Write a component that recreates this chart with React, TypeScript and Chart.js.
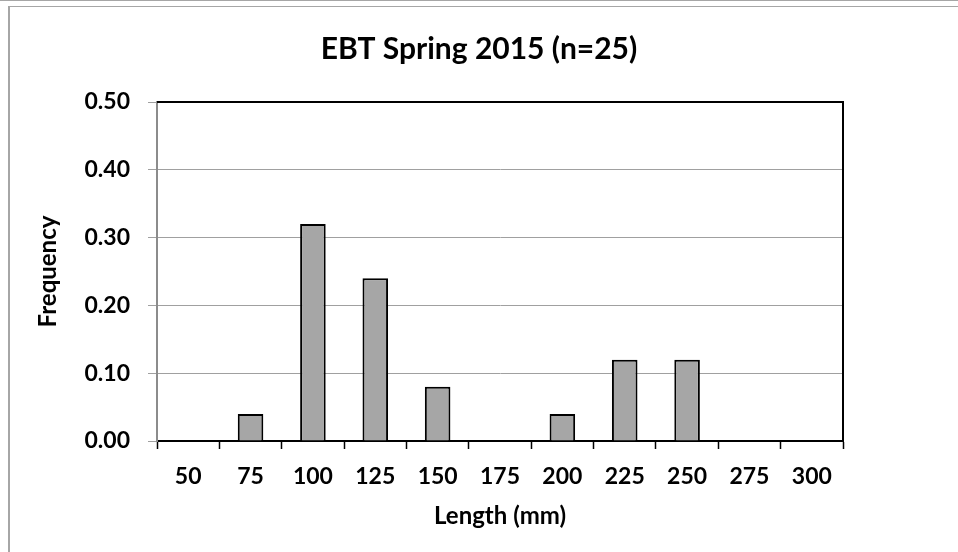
import React, { useEffect, useRef } from "react";
import { Chart, registerables } from "chart.js";

Chart.register(...registerables);

const categories = ["50", "75", "100", "125", "150", "175", "200", "225", "250", "275", "300"];
const frequency = [0, 0.04, 0.32, 0.24, 0.08, 0, 0.04, 0.12, 0.12, 0, 0];
const titleText = "EBT Spring 2015 (n=25)";
const xTitle = "Length (mm)";
const yTitle = "Frequency";

const FONT = "Lato, 'Open Sans', sans-serif";

const plotBorder = {
  id: "plotBorder",
  afterDraw(chart: any) {
    const { ctx, chartArea } = chart;
    ctx.save();
    ctx.strokeStyle = "#000";
    ctx.lineWidth = 2;
    ctx.beginPath();
    ctx.moveTo(chartArea.left, chartArea.top);
    ctx.lineTo(chartArea.right, chartArea.top);
    ctx.stroke();
    ctx.restore();
  },
};

export default function App() {
  const ref = useRef<HTMLCanvasElement | null>(null);

  useEffect(() => {
    if (!ref.current) return;
    const chart = new Chart(ref.current, {
      type: "bar",
      data: {
        labels: categories,
        datasets: [
          {
            data: frequency,
            backgroundColor: "#a6a6a6",
            borderColor: "#000",
            borderWidth: 2,
            borderSkipped: "start",
            barPercentage: 0.41,
            categoryPercentage: 1,
          },
        ],
      },
      options: {
        responsive: false,
        maintainAspectRatio: false,
        animation: false,
        devicePixelRatio: 1,
        layout: { padding: 0 },
        plugins: {
          legend: { display: false },
          tooltip: { enabled: false },
          title: {
            display: true,
            text: titleText,
            color: "#000",
            font: { family: FONT, size: 30, weight: "bold" },
            padding: { top: 31, bottom: 35 },
          },
        },
        scales: {
          x: {
            afterFit: (s: any) => {
              s.height = 111;
            },
            grid: {
              display: true,
              offset: true,
              drawOnChartArea: false,
              drawTicks: true,
              tickLength: 8,
              tickColor: "#000",
              tickWidth: 1.5,
            },
            border: { display: true, color: "#000", width: 2 },
            ticks: {
              color: "#000",
              padding: 14,
              maxRotation: 0,
              autoSkip: false,
              font: { family: FONT, size: 23, weight: "bold" },
            },
            title: {
              display: true,
              text: xTitle,
              color: "#000",
              font: { family: FONT, size: 24, weight: "bold" },
              padding: { top: 0, bottom: 21 },
            },
          },
          y: {
            min: 0,
            max: 0.5,
            afterFit: (s: any) => {
              s.width = 157;
            },
            grid: {
              color: (c: any) => (c.tick && Math.abs(c.tick.value) < 1e-9 ? "#000" : "#a0a0a0"),
              lineWidth: 1,
              drawTicks: true,
              tickLength: 9,
              tickColor: "#a0a0a0",
            },
            border: { display: true, color: "#8c8c8c", width: 2 },
            ticks: {
              stepSize: 0.1,
              color: "#000",
              padding: 18,
              font: { family: FONT, size: 23, weight: "bold" },
              callback: (v: any) => Number(v).toFixed(2),
            },
            title: {
              display: true,
              text: yTitle,
              color: "#000",
              font: { family: FONT, size: 24, weight: "bold" },
              padding: { top: 34, bottom: 0 },
            },
          },
          y2: {
            position: "right",
            display: true,
            afterFit: (s: any) => {
              s.width = 115;
            },
            grid: { display: false, drawOnChartArea: false, drawTicks: false },
            border: { display: true, color: "#000", width: 2 },
            ticks: { display: false },
          },
        },
      },
      plugins: [plotBorder],
    } as any);
    return () => chart.destroy();
  }, []);

  return (
    <div style={{ position: "fixed", left: 0, top: 0, width: 958, height: 552, background: "#fff", overflow: "hidden" }}>
      <div style={{ position: "absolute", left: 0, top: 0, width: 958, height: 1, background: "#a6a6a6" }} />
      <div
        style={{
          position: "absolute",
          left: 8,
          top: 6,
          width: 960,
          height: 560,
          borderLeft: "2px solid #a6a6a6",
          borderTop: "1px solid #a6a6a6",
        }}
      />
      <canvas ref={ref} width={958} height={552} style={{ position: "absolute", left: 0, top: 0 }} />
    </div>
  );
}
